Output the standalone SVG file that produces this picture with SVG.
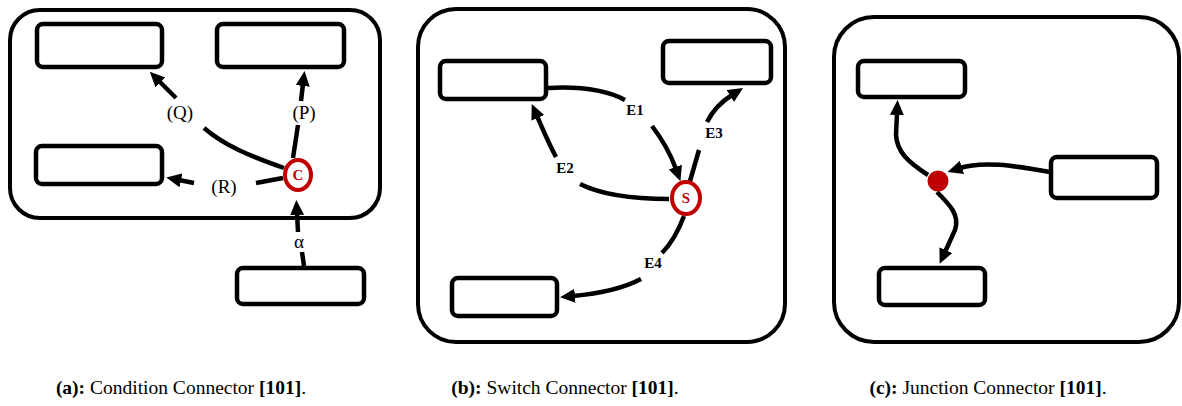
<svg xmlns="http://www.w3.org/2000/svg" width="1182" height="406" viewBox="0 0 1182 406">
<defs>
<marker id="ah" markerWidth="17" markerHeight="15" refX="2" refY="7" orient="auto" markerUnits="userSpaceOnUse">
<path d="M0,0 L15,7 L0,14 Z" fill="#000"/>
</marker>
<style>
.outer{fill:#fff;stroke:#000;stroke-width:4}
.box{fill:#fff;stroke:#000;stroke-width:4.5}
.edge{fill:none;stroke:#000;stroke-width:4.5;stroke-linecap:butt}
.arr{marker-end:url(#ah)}
.lbl{font-family:"Liberation Serif",serif;font-size:19px;text-anchor:middle;fill:#000}
.elbl{font-family:"Liberation Serif",serif;font-size:15px;font-weight:bold;text-anchor:middle;fill:#000}
.conn{fill:#fff;stroke:#c00000;stroke-width:4}
.ctext{font-family:"Liberation Serif",serif;font-size:15px;font-weight:bold;fill:#c00000;text-anchor:middle}
.cap{font-family:"Liberation Serif",serif;font-size:19.5px;text-anchor:middle;fill:#000}
</style>
</defs>
<rect width="1182" height="406" fill="#fff"/>

<!-- Panel (a) -->
<g id="panel-a">
<rect class="outer" x="10" y="10" width="370" height="208" rx="30"/>
</g>
<g id="a-box-q"><rect class="box" x="37" y="24" width="125" height="43" rx="6"/></g>
<g id="a-box-p"><rect class="box" x="217" y="24" width="127" height="43" rx="6"/></g>
<g id="a-box-r"><rect class="box" x="36" y="146" width="126" height="38" rx="6"/></g>
<g id="a-box-src"><rect class="box" x="237" y="268" width="127" height="36" rx="6"/></g>
<g id="a-connectors">
<path class="edge" d="M293,158 L298,125"/>
<path class="edge arr" d="M301,101 L303,84"/>
<path class="edge" d="M284,168 C250,156 225,146 204,128"/>
<path class="edge arr" d="M176,98 L159,81"/>
<path class="edge" d="M283,178 L256,183"/>
<path class="edge arr" d="M194,183 L179,180"/>
<path class="edge" d="M304,266 L302,252"/>
<path class="edge arr" d="M298,232 L297,213"/>
<text class="lbl" x="304" y="119">(P)</text>
<text class="lbl" x="180" y="119">(Q)</text>
<text class="lbl" x="224" y="193">(R)</text>
<text class="lbl" x="299" y="248">α</text>
</g>
<g id="a-condition">
<ellipse class="conn" cx="298" cy="175" rx="13" ry="15"/>
<text class="ctext" x="298" y="180">C</text>
</g>

<!-- Panel (b) -->
<g id="panel-b">
<rect class="outer" x="418" y="9" width="367" height="333" rx="38"/>
</g>
<g id="b-box-1"><rect class="box" x="440" y="61" width="106" height="38" rx="6"/></g>
<g id="b-box-2"><rect class="box" x="663" y="41" width="108" height="42" rx="6"/></g>
<g id="b-box-3"><rect class="box" x="452" y="278" width="105" height="38" rx="6"/></g>
<g id="b-connectors">
<path class="edge" d="M548,88 C585,86 610,92 625,100"/>
<path class="edge arr" d="M652,126 C665,143 672,158 676,169"/>
<path class="edge" d="M669,199 C630,199 600,194 580,184"/>
<path class="edge arr" d="M556,157 C548,142 541,125 537,116"/>
<path class="edge" d="M690,181 L699,150"/>
<path class="edge arr" d="M707,122 C714,108 724,100 732,95"/>
<path class="edge" d="M684,216 C678,232 670,245 662,253"/>
<path class="edge arr" d="M641,279 C620,290 595,294 573,296"/>
<text class="elbl" x="635" y="115">E1</text>
<text class="elbl" x="565" y="173">E2</text>
<text class="elbl" x="714" y="138">E3</text>
<text class="elbl" x="653" y="268">E4</text>
</g>
<g id="b-switch">
<ellipse class="conn" cx="686" cy="198" rx="14" ry="16"/>
<text class="ctext" x="686" y="203">S</text>
</g>

<!-- Panel (c) -->
<g id="panel-c">
<rect class="outer" x="834" y="17" width="345" height="325" rx="40"/>
</g>
<g id="c-box-1"><rect class="box" x="858" y="61" width="107" height="36" rx="6"/></g>
<g id="c-box-2"><rect class="box" x="1051" y="157" width="106" height="41" rx="6"/></g>
<g id="c-box-3"><rect class="box" x="879" y="268" width="106" height="37" rx="6"/></g>
<g id="c-connectors">
<path class="edge arr" d="M928,175 C908,162 897,152 896,135 L897,113"/>
<path class="edge arr" d="M1050,172 C1020,167 985,160 960,168"/>
<path class="edge arr" d="M937,192 C950,205 960,215 955,230 L945,252"/>
</g>
<g id="c-junction">
<circle cx="938" cy="181" r="10.5" fill="#c00000"/>
</g>

<!-- Captions -->
<g id="captions">
<text class="cap" x="181" y="394"><tspan font-weight="bold">(a):</tspan> Condition Connector <tspan font-weight="bold">[101]</tspan>.</text>
<text class="cap" x="565" y="394"><tspan font-weight="bold">(b):</tspan> Switch Connector <tspan font-weight="bold">[101]</tspan>.</text>
<text class="cap" x="988" y="394"><tspan font-weight="bold">(c):</tspan> Junction Connector <tspan font-weight="bold">[101]</tspan>.</text>
</g>
</svg>
